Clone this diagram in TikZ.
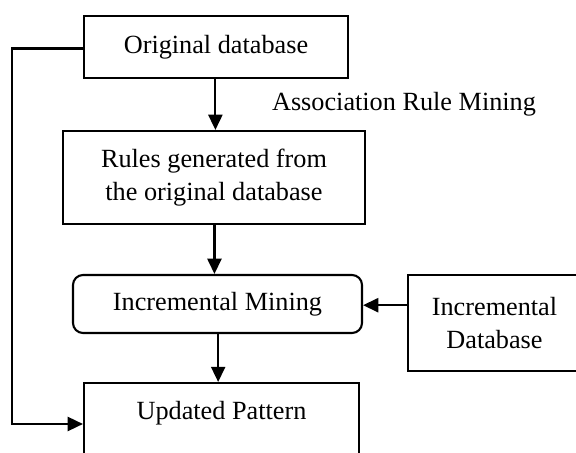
\documentclass[tikz,border=0pt]{standalone}
\usepackage{fontspec}
\setmainfont{Liberation Serif}
\usepackage{tikz}
\usetikzlibrary{arrows.meta,positioning}

\begin{document}
\begin{tikzpicture}[scale=0.15]
                \tikzstyle{every node}+=[font=\fontsize{11.2}{14}\selectfont, align=center]
                \tikzstyle{box}=[draw, black, line width=0.9pt, inner sep=0pt]
                \tikzstyle{arrow}=[black, line width=0.9pt, -{Triangle[length=6.5pt,width=6pt]}]
                \useasboundingbox (0,0) rectangle (57.6,-45.2);
                \node [box, minimum width=3.96cm, minimum height=0.93cm] (orig) at (21.6,-4.7) {Original database};
                \node (assoc) at (40.4,-10.4) {Association Rule Mining};
                \node [box, minimum width=4.53cm, minimum height=1.395cm] (rules) at (21.4,-17.75) {Rules generated from\\the original database};
                \node [box, rounded corners=0.15cm, minimum width=4.335cm, minimum height=0.87cm] (incmin) at (21.75,-30.4) {Incremental Mining};
                \node [box, minimum width=2.595cm, minimum height=1.44cm] (incdb) at (49.45,-32.3) {Incremental\\Database};
                \node [box, anchor=north, minimum width=4.125cm, text height=0.54cm, text depth=0.78cm] (upd) at (22.15,-38.2) {Updated Pattern};
                \coordinate (fb) at (1.2,-42.4);
                \draw [arrow] ([xshift=-1.7pt]orig.south) -- ([xshift=-1.7pt]orig.south |- rules.north);
                \draw [arrow] ([xshift=1.3pt]rules.south) -- ([xshift=1.3pt]rules.south |- incmin.north);
                \draw [arrow] ([xshift=1.9pt]incmin.south) -- ([xshift=1.9pt]incmin.south |- upd.north);
                \draw [arrow] ([yshift=-3.4pt]incmin.east -| incdb.west) -- ([yshift=-3.4pt]incmin.east);
                \draw [arrow] ([yshift=-4.3pt]orig.west) -| (fb) -- (fb -| upd.west);
\end{tikzpicture}
\end{document}
